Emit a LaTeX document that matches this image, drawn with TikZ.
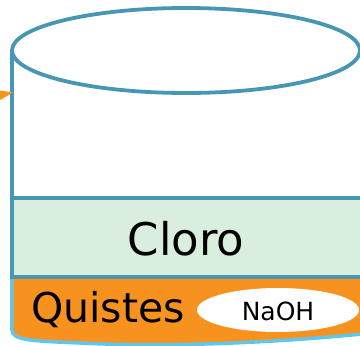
\documentclass[tikz,border=0pt]{standalone}
\usepackage{fontspec}
\setmainfont{DejaVu Sans}
\usetikzlibrary{shapes.geometric}
\definecolor{tealline}{HTML}{4797B3}
\definecolor{greenfill}{HTML}{D9EEDC}
\definecolor{orangefill}{HTML}{F7921F}
\definecolor{lightblue}{HTML}{62C6EC}
\begin{document}
\begin{tikzpicture}[x=1pt,y=-1pt,
  wall/.style={draw=tealline,line width=3.8pt},
  label/.style={inner sep=0pt,anchor=base,text=black}]
\useasboundingbox (0,0) rectangle (360,346);
\clip (0,0) rectangle (360,346);
% green band
\fill[greenfill] (12,198) rectangle (362,277);
% orange band
\fill[orangefill] (12,277) -- (12,330) .. controls (12,340) and (30,341) .. (80,343)
  .. controls (160,347) and (260,344) .. (362,334) -- (362,277) -- cycle;
\draw[draw=lightblue,line width=3.5pt] (12,277) -- (12,330) .. controls (12,340) and (30,341) .. (80,343)
  .. controls (160,347) and (260,344) .. (362,334);
% top ellipse and left wall
\draw[wall] (186,50.5) ellipse [x radius=174, y radius=42.5];
\draw[wall] (12,50.5) -- (12,277);
\draw[wall] (12,198) -- (362,198);
\draw[wall] (10.1,277) -- (362,277);
% orange arrow tip
\fill[orangefill] (0,90.5) -- (13,92.5) -- (0,100) -- cycle;
% texts
\node[label,font=\fontsize{45}{50}\selectfont] (cloro) at (186,255) {Cloro};
\node[label,anchor=base west,font=\fontsize{41}{46}\selectfont] (quistes) at (31,322) {Quistes};
\node[fill=white,ellipse,draw=none,minimum width=162pt,minimum height=44pt,inner sep=0pt] (naohbg) at (278,310) {};
\node[label,font=\fontsize{25}{28}\selectfont] (naoh) at (278,320) {NaOH};
\end{tikzpicture}
\end{document}
